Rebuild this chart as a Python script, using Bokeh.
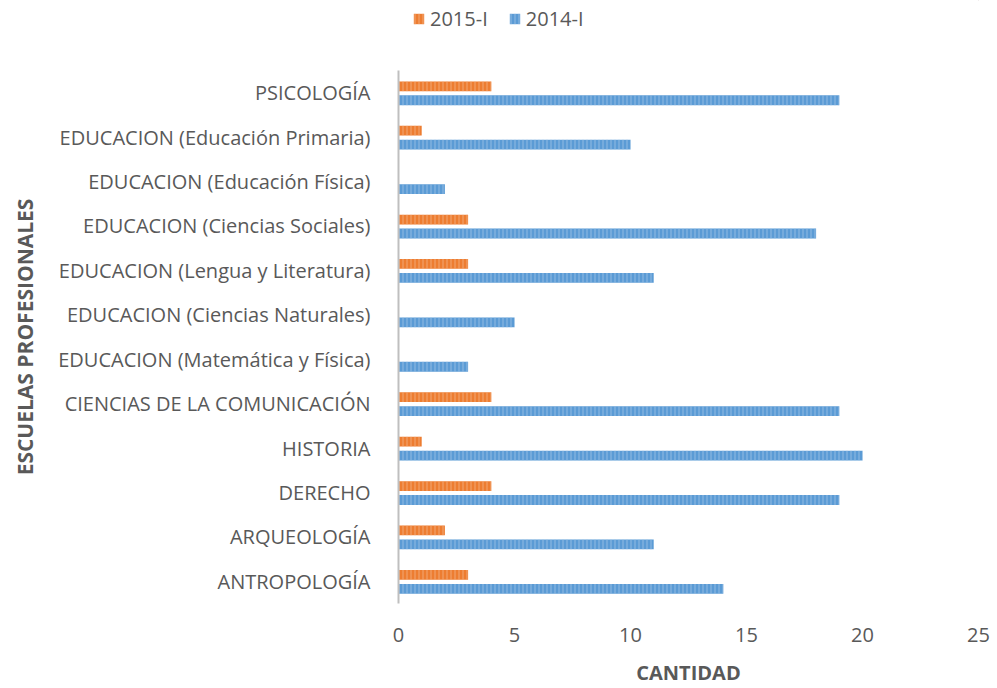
from bokeh.plotting import figure
from bokeh.layouts import column
from bokeh.models import ColumnDataSource, FactorRange, Legend, LegendItem
from bokeh.transform import dodge
from bokeh.embed import file_html
from bokeh.resources import INLINE

escuelas = [
    "ANTROPOLOGÍA",
    "ARQUEOLOGÍA",
    "DERECHO",
    "HISTORIA",
    "CIENCIAS DE LA COMUNICACIÓN",
    "EDUCACION (Matemática y Física)",
    "EDUCACION (Ciencias Naturales)",
    "EDUCACION (Lengua y Literatura)",
    "EDUCACION (Ciencias Sociales)",
    "EDUCACION (Educación Física)",
    "EDUCACION (Educación Primaria)",
    "PSICOLOGÍA",
]
v2015 = [3, 2, 4, 1, 4, 0, 0, 3, 3, 0, 1, 4]
v2014 = [14, 11, 19, 20, 19, 3, 5, 11, 18, 2, 10, 19]
x_ticks = [0, 5, 10, 15, 20, 25]
series = ["2015-I", "2014-I"]

src = ColumnDataSource(dict(esc=escuelas, a2015=v2015, a2014=v2014))

FONT = "Open Sans"
GREY = "#595959"
ORANGE, ORANGE_H = "#ED7D31", "#F4B183"
BLUE, BLUE_H = "#5B9BD5", "#9DC3E6"
HATCH = dict(hatch_pattern="vertical_line", hatch_scale=4, hatch_weight=1, hatch_alpha=0.8)

# ---- main chart ----
p = figure(width=997, height=618, output_backend="svg", toolbar_location=None,
           y_range=FactorRange(factors=escuelas, range_padding=0),
           x_range=(0, 25))
p.min_border_left = 398
p.min_border_right = 19
p.min_border_top = 0
p.min_border_bottom = 84
p.outline_line_color = None
p.xgrid.grid_line_color = None
p.ygrid.grid_line_color = None

r15 = p.hbar(y=dodge("esc", 0.145, range=p.y_range), right="a2015", left=0, height=0.22,
             source=src, fill_color=ORANGE, line_color=None, hatch_color=ORANGE_H, **HATCH)
r14 = p.hbar(y=dodge("esc", -0.17, range=p.y_range), right="a2014", left=0, height=0.22,
             source=src, fill_color=BLUE, line_color=None, hatch_color=BLUE_H, **HATCH)

p.xaxis.ticker = x_ticks
p.xaxis.axis_line_color = None
p.xaxis.major_tick_line_color = None
p.xaxis.minor_tick_line_color = None
p.xaxis.major_label_text_font = FONT
p.xaxis.major_label_text_font_size = "20px"
p.xaxis.major_label_text_color = GREY
p.xaxis.major_label_standoff = 18
p.xaxis.axis_label = "CANTIDAD"
p.xaxis.axis_label_text_font = FONT
p.xaxis.axis_label_text_font_style = "bold"
p.xaxis.axis_label_text_font_size = "20px"
p.xaxis.axis_label_text_color = GREY
p.xaxis.axis_label_standoff = 14

p.yaxis.axis_line_color = "#BFBFBF"
p.yaxis.axis_line_width = 2
p.yaxis.major_tick_line_color = None
p.yaxis.minor_tick_line_color = None
p.yaxis.major_label_text_font = FONT
p.yaxis.major_label_text_font_size = "20px"
p.yaxis.major_label_text_color = GREY
p.yaxis.major_label_standoff = 22
p.yaxis.axis_label = "ESCUELAS PROFESIONALES"
p.yaxis.axis_label_text_font = FONT
p.yaxis.axis_label_text_font_style = "bold"
p.yaxis.axis_label_text_font_size = "21px"
p.yaxis.axis_label_text_color = GREY
p.yaxis.axis_label_standoff = 16

# ---- legend strip on top ----
lg = figure(width=997, height=70, output_backend="svg", toolbar_location=None,
            x_axis_type=None, y_axis_type=None, x_range=(0, 1), y_range=(0, 1))
lg.min_border = 0
lg.outline_line_color = None
lg.xgrid.grid_line_color = None
lg.ygrid.grid_line_color = None
# off-range sample rows: only the legend glyphs are visible in this strip
proxy = ColumnDataSource(dict(y=[5], r=[5]))
d15 = lg.hbar(y="y", right="r", left=4, height=0.1, source=proxy,
              fill_color=ORANGE, line_color=None, hatch_color=ORANGE_H, **HATCH)
d14 = lg.hbar(y="y", right="r", left=4, height=0.1, source=proxy,
              fill_color=BLUE, line_color=None, hatch_color=BLUE_H, **HATCH)
legend = Legend(items=[LegendItem(label=series[0], renderers=[d15]),
                       LegendItem(label=series[1], renderers=[d14])],
                orientation="horizontal", location=(14, 38),
                label_text_font=FONT, label_text_font_size="20px", label_text_color=GREY,
                glyph_width=13, glyph_height=13, spacing=20, padding=0,
                margin=0, label_standoff=5, label_height=22,
                border_line_color=None, background_fill_alpha=0)
lg.add_layout(legend, "center")

layout = column(lg, p, spacing=0)
open("out.html", "w").write(file_html(layout, INLINE))
